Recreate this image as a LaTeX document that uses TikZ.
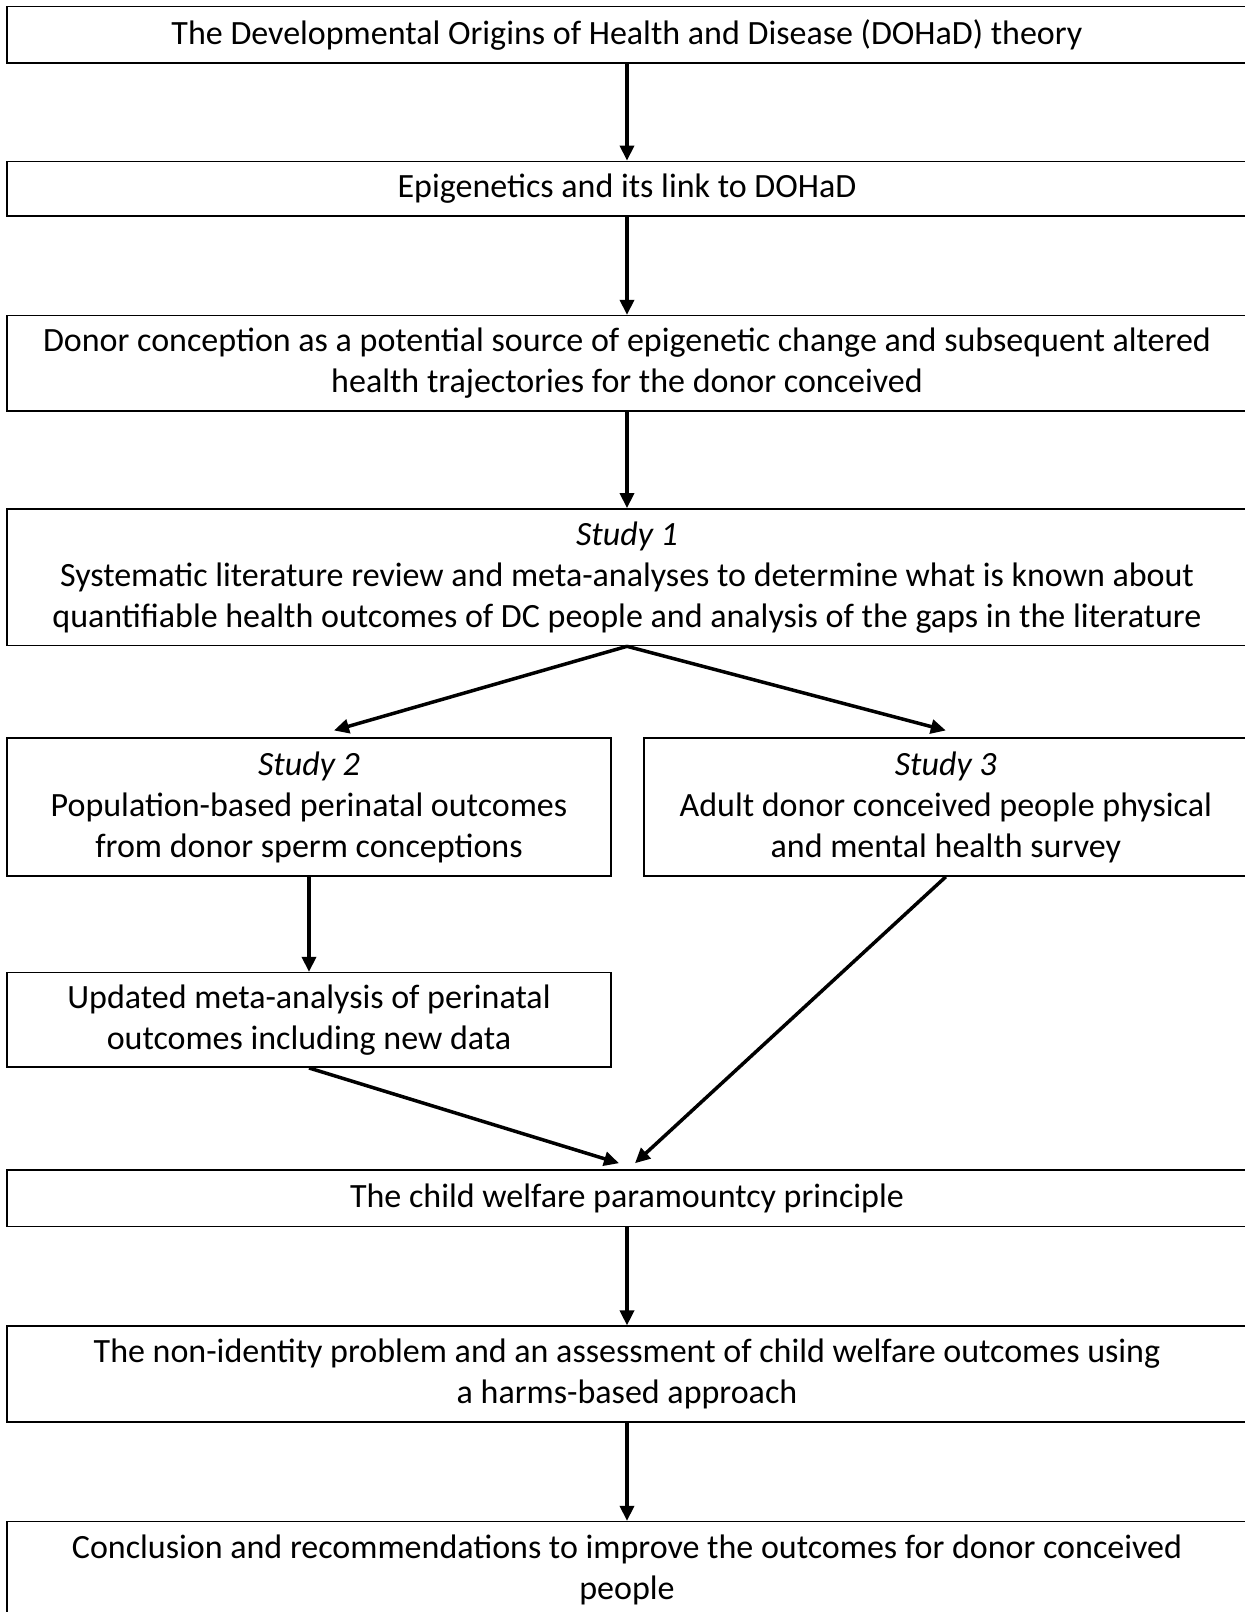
\documentclass[tikz,border=0pt]{standalone}
\usepackage{fontspec}
\setmainfont{Carlito}
\usetikzlibrary{arrows.meta}

\begin{document}
\begin{tikzpicture}[x=1pt, y=-1pt,
        box/.style={rectangle, draw, line width=1.5pt, align=center, inner sep=0pt, font=\fontsize{34}{41}\selectfont},
        wide/.style={box, minimum width=1240pt},
        half/.style={box, minimum width=604pt},
        arrow/.style={-{Triangle[length=15pt, width=14pt]}, line width=3.5pt}
    ]
    \useasboundingbox (0,0) rectangle (1245,1612);

    % Background chain
    \node[wide, minimum height=56.5pt] (dohad) at (627,34.5) {The Developmental Origins of Health and Disease (DOHaD) theory};
    \node[wide, minimum height=54.5pt] (epi) at (627,188.6) {Epigenetics and its link to DOHaD};
    \node[wide, minimum height=95.6pt] (donor) at (627,363.4) {Donor conception as a potential source of epigenetic change and subsequent altered\\ health trajectories for the donor conceived};

    % Studies
    \node[wide, minimum height=136.7pt] (study1) at (627,577.2) {\textit{Study 1}\\ Systematic literature review and meta-analyses to determine what is known about\\ quantifiable health outcomes of DC people and analysis of the gaps in the literature};
    \node[half, minimum height=137.8pt] (study2) at (309,807.1) {\textit{Study 2}\\ Population-based perinatal outcomes\\ from donor sperm conceptions};
    \node[half, minimum height=137.8pt] (study3) at (945.8,807.1) {\textit{Study 3}\\ Adult donor conceived people physical\\ and mental health survey};
    \node[half, minimum height=94.6pt] (update) at (309,1019.9) {Updated meta-analysis of perinatal\\ outcomes including new data};

    % Ethics and conclusion
    \node[wide, minimum height=56.5pt] (welfare) at (627,1198.2) {The child welfare paramountcy principle};
    \node[wide, minimum height=95.7pt] (nonid) at (627,1374) {The non-identity problem and an assessment of child welfare outcomes using\\ a harms-based approach};
    \node[wide, minimum height=96pt] (concl) at (627,1569.6) {Conclusion and recommendations to improve the outcomes for donor conceived\\ people};

    % Arrows
    \draw[arrow] (dohad) -- (epi);
    \draw[arrow] (epi) -- (donor);
    \draw[arrow] (donor) -- (study1);
    \draw[arrow] (study1.south) -- ([xshift=25pt, yshift=7pt]study2.north);
    \draw[arrow] (study1.south) -- ([yshift=7pt]study3.north);
    \draw[arrow] (study2) -- (update);
    \draw[arrow] (update.south) -- ([xshift=-8pt, yshift=6pt]welfare.north);
    \draw[arrow] (study3.south) -- ([xshift=8pt, yshift=6pt]welfare.north);
    \draw[arrow] (welfare) -- (nonid);
    \draw[arrow] (nonid) -- (concl);

\end{tikzpicture}
\end{document}
